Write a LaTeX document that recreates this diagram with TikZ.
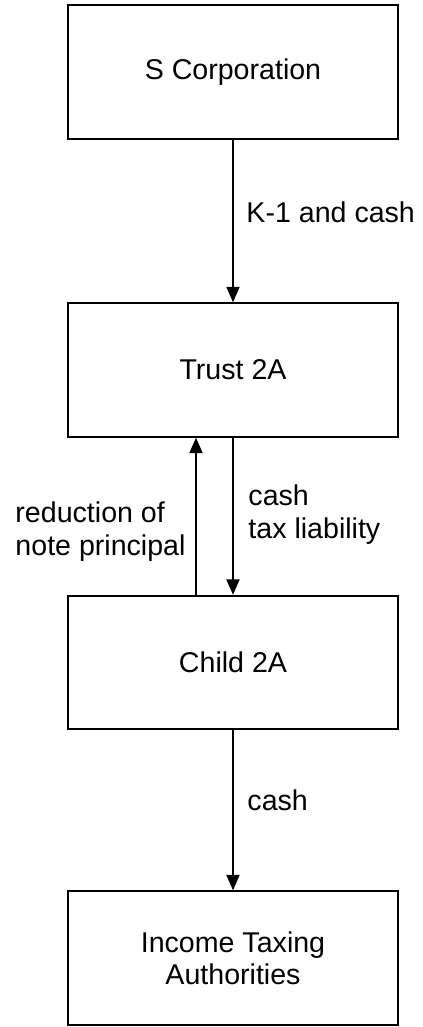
\documentclass[tikz,border=0pt]{standalone}
\usepackage{fontspec}
\setmainfont{Liberation Sans}
\usepackage{tikz}
\usetikzlibrary{arrows.meta}

\begin{document}
\begin{tikzpicture}[x=0.015cm, y=-0.015cm,
    entity/.style={draw, line width=0.9pt, minimum width=4.95cm,
      minimum height=2.0cm, inner sep=0pt, align=center,
      font=\fontsize{12.2}{13.7}\selectfont},
    flow/.style={line width=0.7pt, -{Triangle[width=5.6pt, length=6.6pt]}},
    flowlab/.style={inner sep=0pt, align=left,
      font=\fontsize{12.2}{13.7}\selectfont}]
  \useasboundingbox (0,0) rectangle (422,1027);

  % Entities
  \node[entity] (scorp) at (233,72) {S Corporation};
  \node[entity] (trust) at (233,370) {Trust 2A};
  \node[entity] (child) at (233,662.5) {Child 2A};
  \node[entity] (irs)   at (233,958) {Income Taxing\\Authorities};

  % Flows
  \draw[flow] (scorp.south) -- (trust.north);
  \draw[flow] (trust.south) -- (child.north);
  \draw[flow] ([xshift=-0.555cm]child.north) -- ([xshift=-0.555cm]trust.south);
  \draw[flow] (child.south) -- (irs.north);

  % Flow labels
  \node[flowlab, anchor=base west] (k1) at (246,222) {K-1 and cash};
  \node[flowlab, anchor=base west] (tax) at (248,538) {cash\\tax liability};
  \node[flowlab, anchor=base west] (note) at (15,555) {reduction of\\note principal};
  \node[flowlab, anchor=base west] (pay) at (247,810) {cash};
\end{tikzpicture}
\end{document}
